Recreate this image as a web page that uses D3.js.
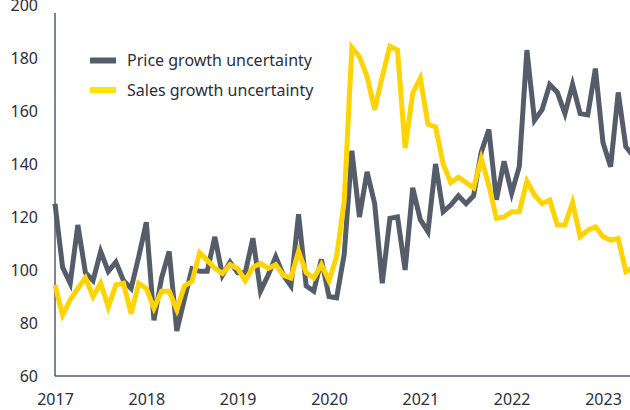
<!DOCTYPE html>
<html>
<head>
<meta charset="utf-8">
<script src="https://cdn.jsdelivr.net/npm/d3@7"></script>
<style>
  body { margin: 0; background: #fff; }
  svg text { font-family: "Noto Sans", sans-serif; fill: #2e2e38; }
</style>
</head>
<body>
<svg id="chart"></svg>
<script>
// monthly index, Jan 2017 = 0
const years = [2017, 2018, 2019, 2020, 2021, 2022, 2023];
const yTicks = [60, 80, 100, 120, 140, 160, 180, 200];
const seriesNames = ["Price growth uncertainty", "Sales growth uncertainty"];

const price = [125,101,95,117,99,96,107,99.5,103,96,93,105,118,81,97,107,77,89,100.5,99.5,
  99.5,112.5,98,103,99,99,112,92,98,105,98,94,121,94,92,104,90,89.5,106,145,
  120,137,125,95,119.5,120,100,131,119,114.5,140,122,124.5,128,125,128,144.5,153,126.5,141,
  129,139,183,156.5,160.5,170,167,159,170,159,158.5,176,148,139,167,146.5,143];

const sales = [94.4,83,88.8,93,97,90,95,86,94.4,95,83.5,95,93,85.6,92,92,85,94,95.6,106.5,
  103.7,100.6,98.7,102,100.6,96,101,102.5,100.6,102,98,97,107,99,97,102,96,105,126,184,
  180.5,173,160.5,173,184.5,183,146,166.7,172.4,155,154,140,133,135,133,131,142,132,119.5,120,
  122,122,133.5,128.3,125,126.4,117,117,125.5,112.6,115,116.3,112.6,111.3,111.8,99.4,101];

const width = 630, height = 410;
const colors = ["#545d69", "#ffd400"];
const swatch = ["#545d69", "#ffe600"];

const svg = d3.select("#chart").attr("width", width).attr("height", height);

const x = d3.scaleLinear().domain([0, 72]).range([55, 603]);
const y = d3.scaleLinear().domain([60, 200]).range([376, 5]);

// axes
const xAxis = d3.axisBottom(x)
  .tickValues(years.map((d, i) => i * 12))
  .tickFormat((d, i) => years[i])
  .tickSize(0).tickPadding(18);
const gx = svg.append("g").attr("transform", "translate(0," + y(60) + ")").call(xAxis);
gx.select(".domain").remove();
gx.selectAll("text").style("font-size", "16px");

const yAxis = d3.axisLeft(y).tickValues(yTicks).tickSize(0).tickPadding(17);
const gy = svg.append("g").attr("transform", "translate(" + x(0) + ",0)").call(yAxis);
gy.select(".domain").remove();
gy.selectAll("text").style("font-size", "16px");

// axis lines
svg.append("line").attr("x1", x(0)).attr("x2", width)
  .attr("y1", y(60)).attr("y2", y(60))
  .attr("stroke", "#545d69").attr("stroke-width", 1.5);
svg.append("line").attr("x1", x(0)).attr("x2", x(0))
  .attr("y1", 13).attr("y2", y(60))
  .attr("stroke", "#545d69").attr("stroke-width", 1.5);

const line = d3.line().x((d, i) => x(i)).y(d => y(d));

[price, sales].forEach((s, k) => {
  svg.append("path").datum(s)
    .attr("fill", "none")
    .attr("stroke", colors[k])
    .attr("stroke-width", 5)
    .attr("stroke-linejoin", "miter")
    .attr("d", line);
});

// legend
const legend = svg.append("g");
seriesNames.forEach((name, k) => {
  const ly = 60.5 + k * 29.5;
  legend.append("rect").attr("x", 90).attr("y", ly - 3).attr("width", 26).attr("height", 6)
    .attr("fill", swatch[k]);
  legend.append("text").attr("x", 127).attr("y", ly).attr("dy", "0.35em")
    .style("font-size", "16px").text(name);
});
</script>
</body>
</html>
